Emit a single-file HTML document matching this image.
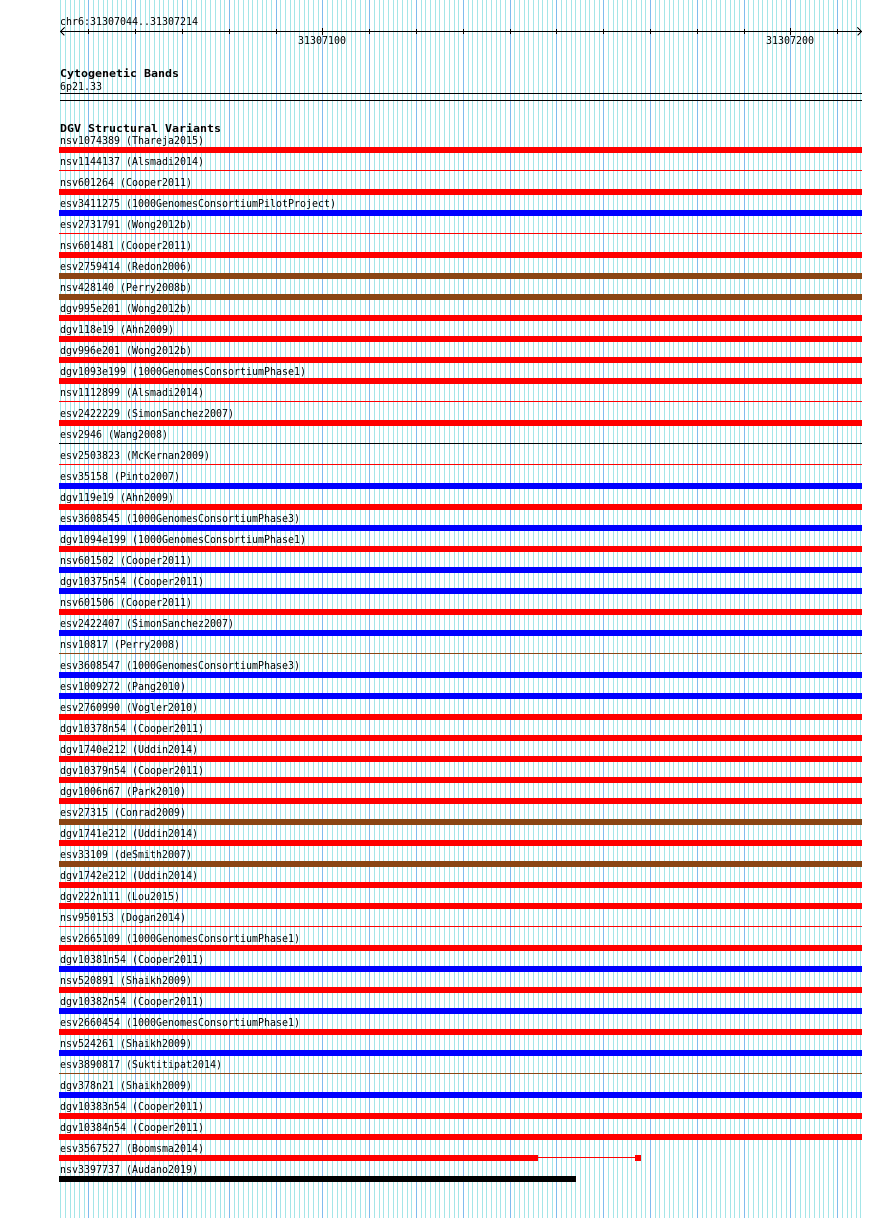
<!DOCTYPE html>
<html>
<head>
<meta charset="utf-8">
<style>
html,body{margin:0;padding:0;background:#fff;}
svg{display:block;}
text{font-family:"DejaVu Sans Mono","Liberation Mono",monospace;font-size:11px;fill:#000;}
text.b{font-weight:bold;}
</style>
</head>
<body>
<svg width="890" height="1218" viewBox="0 0 890 1218" xmlns="http://www.w3.org/2000/svg" shape-rendering="crispEdges">
<rect x="0" y="0" width="890" height="1218" fill="#fff"/>
<!-- minor grid -->
<path stroke="#a4e6e8" stroke-width="1" fill="none" d="M60.5 0V1218M65.5 0V1218M70.5 0V1218M74.5 0V1218M79.5 0V1218M84.5 0V1218M93.5 0V1218M98.5 0V1218M103.5 0V1218M107.5 0V1218M112.5 0V1218M117.5 0V1218M121.5 0V1218M126.5 0V1218M131.5 0V1218M140.5 0V1218M145.5 0V1218M149.5 0V1218M154.5 0V1218M159.5 0V1218M163.5 0V1218M168.5 0V1218M173.5 0V1218M177.5 0V1218M187.5 0V1218M191.5 0V1218M196.5 0V1218M201.5 0V1218M205.5 0V1218M210.5 0V1218M215.5 0V1218M220.5 0V1218M224.5 0V1218M234.5 0V1218M238.5 0V1218M243.5 0V1218M248.5 0V1218M252.5 0V1218M257.5 0V1218M262.5 0V1218M266.5 0V1218M271.5 0V1218M280.5 0V1218M285.5 0V1218M290.5 0V1218M294.5 0V1218M299.5 0V1218M304.5 0V1218M308.5 0V1218M313.5 0V1218M318.5 0V1218M327.5 0V1218M332.5 0V1218M337.5 0V1218M341.5 0V1218M346.5 0V1218M351.5 0V1218M355.5 0V1218M360.5 0V1218M365.5 0V1218M374.5 0V1218M379.5 0V1218M383.5 0V1218M388.5 0V1218M393.5 0V1218M397.5 0V1218M402.5 0V1218M407.5 0V1218M411.5 0V1218M421.5 0V1218M425.5 0V1218M430.5 0V1218M435.5 0V1218M439.5 0V1218M444.5 0V1218M449.5 0V1218M454.5 0V1218M458.5 0V1218M468.5 0V1218M472.5 0V1218M477.5 0V1218M482.5 0V1218M486.5 0V1218M491.5 0V1218M496.5 0V1218M500.5 0V1218M505.5 0V1218M514.5 0V1218M519.5 0V1218M524.5 0V1218M528.5 0V1218M533.5 0V1218M538.5 0V1218M542.5 0V1218M547.5 0V1218M552.5 0V1218M561.5 0V1218M566.5 0V1218M571.5 0V1218M575.5 0V1218M580.5 0V1218M585.5 0V1218M589.5 0V1218M594.5 0V1218M599.5 0V1218M608.5 0V1218M613.5 0V1218M617.5 0V1218M622.5 0V1218M627.5 0V1218M631.5 0V1218M636.5 0V1218M641.5 0V1218M645.5 0V1218M655.5 0V1218M659.5 0V1218M664.5 0V1218M669.5 0V1218M673.5 0V1218M678.5 0V1218M683.5 0V1218M688.5 0V1218M692.5 0V1218M702.5 0V1218M706.5 0V1218M711.5 0V1218M716.5 0V1218M720.5 0V1218M725.5 0V1218M730.5 0V1218M734.5 0V1218M739.5 0V1218M748.5 0V1218M753.5 0V1218M758.5 0V1218M762.5 0V1218M767.5 0V1218M772.5 0V1218M776.5 0V1218M781.5 0V1218M786.5 0V1218M795.5 0V1218M800.5 0V1218M805.5 0V1218M809.5 0V1218M814.5 0V1218M819.5 0V1218M823.5 0V1218M828.5 0V1218M833.5 0V1218M842.5 0V1218M847.5 0V1218M851.5 0V1218M856.5 0V1218M860.5 0V1218"/>
<!-- major grid -->
<path stroke="#80bcee" stroke-width="1" fill="none" d="M88.5 0V1218M135.5 0V1218M182.5 0V1218M229.5 0V1218M276.5 0V1218M322.5 0V1218M369.5 0V1218M416.5 0V1218M463.5 0V1218M510.5 0V1218M556.5 0V1218M603.5 0V1218M650.5 0V1218M697.5 0V1218M744.5 0V1218M790.5 0V1218M837.5 0V1218"/>

<!-- ruler -->
<text x="60" y="25" textLength="138" lengthAdjust="spacingAndGlyphs">chr6:31307044..31307214</text>
<path stroke="#000" stroke-width="1" fill="none" d="M60 31.5H862M60.5 31.5L64.5 27.5M60.5 31.5L64.5 35.5M861.5 31.5L857.5 27.5M861.5 31.5L857.5 35.5"/>
<path stroke="#000" stroke-width="1" fill="none" d="M88.5 29V34M135.5 29V34M182.5 29V34M229.5 29V34M276.5 29V34M322.5 28V35M369.5 29V34M416.5 29V34M463.5 29V34M510.5 29V34M556.5 29V34M603.5 29V34M650.5 29V34M697.5 29V34M744.5 29V34M790.5 28V35M837.5 29V34"/>
<text x="298" y="44" textLength="48" lengthAdjust="spacingAndGlyphs">31307100</text>
<text x="766" y="44" textLength="48" lengthAdjust="spacingAndGlyphs">31307200</text>

<!-- cytobands -->
<text class="b" x="60" y="77" textLength="119" lengthAdjust="spacingAndGlyphs">Cytogenetic Bands</text>
<text x="60" y="90" textLength="42" lengthAdjust="spacingAndGlyphs">6p21.33</text>
<rect x="60" y="93" width="802" height="1" fill="#000"/>
<rect x="60" y="100" width="802" height="1" fill="#000"/>

<text class="b" x="60" y="132" textLength="161" lengthAdjust="spacingAndGlyphs">DGV Structural Variants</text>

<!-- rows: label baseline 144+21i, bar top 147+21i -->
<text x="60" y="144" textLength="144" lengthAdjust="spacingAndGlyphs">nsv1074389 (Thareja2015)</text>
<rect x="59" y="147" width="803" height="6" fill="#ff0000"/>
<text x="60" y="165" textLength="144" lengthAdjust="spacingAndGlyphs">nsv1144137 (Alsmadi2014)</text>
<rect x="59" y="170" width="803" height="1" fill="#ff0000"/>
<text x="60" y="186" textLength="132" lengthAdjust="spacingAndGlyphs">nsv601264 (Cooper2011)</text>
<rect x="59" y="189" width="803" height="6" fill="#ff0000"/>
<text x="60" y="207" textLength="276" lengthAdjust="spacingAndGlyphs">esv3411275 (1000GenomesConsortiumPilotProject)</text>
<rect x="59" y="210" width="803" height="6" fill="#0000ff"/>
<text x="60" y="228" textLength="132" lengthAdjust="spacingAndGlyphs">esv2731791 (Wong2012b)</text>
<rect x="59" y="233" width="803" height="1" fill="#ff0000"/>
<text x="60" y="249" textLength="132" lengthAdjust="spacingAndGlyphs">nsv601481 (Cooper2011)</text>
<rect x="59" y="252" width="803" height="6" fill="#ff0000"/>
<text x="60" y="270" textLength="132" lengthAdjust="spacingAndGlyphs">esv2759414 (Redon2006)</text>
<rect x="59" y="273" width="803" height="6" fill="#8b4513"/>
<text x="60" y="291" textLength="132" lengthAdjust="spacingAndGlyphs">nsv428140 (Perry2008b)</text>
<rect x="59" y="294" width="803" height="6" fill="#8b4513"/>
<text x="60" y="312" textLength="132" lengthAdjust="spacingAndGlyphs">dgv995e201 (Wong2012b)</text>
<rect x="59" y="315" width="803" height="6" fill="#ff0000"/>
<text x="60" y="333" textLength="114" lengthAdjust="spacingAndGlyphs">dgv118e19 (Ahn2009)</text>
<rect x="59" y="336" width="803" height="6" fill="#ff0000"/>
<text x="60" y="354" textLength="132" lengthAdjust="spacingAndGlyphs">dgv996e201 (Wong2012b)</text>
<rect x="59" y="357" width="803" height="6" fill="#ff0000"/>
<text x="60" y="375" textLength="246" lengthAdjust="spacingAndGlyphs">dgv1093e199 (1000GenomesConsortiumPhase1)</text>
<rect x="59" y="378" width="803" height="6" fill="#ff0000"/>
<text x="60" y="396" textLength="144" lengthAdjust="spacingAndGlyphs">nsv1112899 (Alsmadi2014)</text>
<rect x="59" y="401" width="803" height="1" fill="#ff0000"/>
<text x="60" y="417" textLength="174" lengthAdjust="spacingAndGlyphs">esv2422229 (SimonSanchez2007)</text>
<rect x="59" y="420" width="803" height="6" fill="#ff0000"/>
<text x="60" y="438" textLength="108" lengthAdjust="spacingAndGlyphs">esv2946 (Wang2008)</text>
<rect x="59" y="443" width="803" height="1" fill="#000000"/>
<text x="60" y="459" textLength="150" lengthAdjust="spacingAndGlyphs">esv2503823 (McKernan2009)</text>
<rect x="59" y="464" width="803" height="1" fill="#ff0000"/>
<text x="60" y="480" textLength="120" lengthAdjust="spacingAndGlyphs">esv35158 (Pinto2007)</text>
<rect x="59" y="483" width="803" height="6" fill="#0000ff"/>
<text x="60" y="501" textLength="114" lengthAdjust="spacingAndGlyphs">dgv119e19 (Ahn2009)</text>
<rect x="59" y="504" width="803" height="6" fill="#ff0000"/>
<text x="60" y="522" textLength="240" lengthAdjust="spacingAndGlyphs">esv3608545 (1000GenomesConsortiumPhase3)</text>
<rect x="59" y="525" width="803" height="6" fill="#0000ff"/>
<text x="60" y="543" textLength="246" lengthAdjust="spacingAndGlyphs">dgv1094e199 (1000GenomesConsortiumPhase1)</text>
<rect x="59" y="546" width="803" height="6" fill="#ff0000"/>
<text x="60" y="564" textLength="132" lengthAdjust="spacingAndGlyphs">nsv601502 (Cooper2011)</text>
<rect x="59" y="567" width="803" height="6" fill="#0000ff"/>
<text x="60" y="585" textLength="144" lengthAdjust="spacingAndGlyphs">dgv10375n54 (Cooper2011)</text>
<rect x="59" y="588" width="803" height="6" fill="#0000ff"/>
<text x="60" y="606" textLength="132" lengthAdjust="spacingAndGlyphs">nsv601506 (Cooper2011)</text>
<rect x="59" y="609" width="803" height="6" fill="#ff0000"/>
<text x="60" y="627" textLength="174" lengthAdjust="spacingAndGlyphs">esv2422407 (SimonSanchez2007)</text>
<rect x="59" y="630" width="803" height="6" fill="#0000ff"/>
<text x="60" y="648" textLength="120" lengthAdjust="spacingAndGlyphs">nsv10817 (Perry2008)</text>
<rect x="59" y="653" width="803" height="1" fill="#8b4513"/>
<text x="60" y="669" textLength="240" lengthAdjust="spacingAndGlyphs">esv3608547 (1000GenomesConsortiumPhase3)</text>
<rect x="59" y="672" width="803" height="6" fill="#0000ff"/>
<text x="60" y="690" textLength="126" lengthAdjust="spacingAndGlyphs">esv1009272 (Pang2010)</text>
<rect x="59" y="693" width="803" height="6" fill="#0000ff"/>
<text x="60" y="711" textLength="138" lengthAdjust="spacingAndGlyphs">esv2760990 (Vogler2010)</text>
<rect x="59" y="714" width="803" height="6" fill="#ff0000"/>
<text x="60" y="732" textLength="144" lengthAdjust="spacingAndGlyphs">dgv10378n54 (Cooper2011)</text>
<rect x="59" y="735" width="803" height="6" fill="#ff0000"/>
<text x="60" y="753" textLength="138" lengthAdjust="spacingAndGlyphs">dgv1740e212 (Uddin2014)</text>
<rect x="59" y="756" width="803" height="6" fill="#ff0000"/>
<text x="60" y="774" textLength="144" lengthAdjust="spacingAndGlyphs">dgv10379n54 (Cooper2011)</text>
<rect x="59" y="777" width="803" height="6" fill="#ff0000"/>
<text x="60" y="795" textLength="126" lengthAdjust="spacingAndGlyphs">dgv1006n67 (Park2010)</text>
<rect x="59" y="798" width="803" height="6" fill="#ff0000"/>
<text x="60" y="816" textLength="126" lengthAdjust="spacingAndGlyphs">esv27315 (Conrad2009)</text>
<rect x="59" y="819" width="803" height="6" fill="#8b4513"/>
<text x="60" y="837" textLength="138" lengthAdjust="spacingAndGlyphs">dgv1741e212 (Uddin2014)</text>
<rect x="59" y="840" width="803" height="6" fill="#ff0000"/>
<text x="60" y="858" textLength="132" lengthAdjust="spacingAndGlyphs">esv33109 (deSmith2007)</text>
<rect x="59" y="861" width="803" height="6" fill="#8b4513"/>
<text x="60" y="879" textLength="138" lengthAdjust="spacingAndGlyphs">dgv1742e212 (Uddin2014)</text>
<rect x="59" y="882" width="803" height="6" fill="#ff0000"/>
<text x="60" y="900" textLength="120" lengthAdjust="spacingAndGlyphs">dgv222n111 (Lou2015)</text>
<rect x="59" y="903" width="803" height="6" fill="#ff0000"/>
<text x="60" y="921" textLength="126" lengthAdjust="spacingAndGlyphs">nsv950153 (Dogan2014)</text>
<rect x="59" y="926" width="803" height="1" fill="#ff0000"/>
<text x="60" y="942" textLength="240" lengthAdjust="spacingAndGlyphs">esv2665109 (1000GenomesConsortiumPhase1)</text>
<rect x="59" y="945" width="803" height="6" fill="#ff0000"/>
<text x="60" y="963" textLength="144" lengthAdjust="spacingAndGlyphs">dgv10381n54 (Cooper2011)</text>
<rect x="59" y="966" width="803" height="6" fill="#0000ff"/>
<text x="60" y="984" textLength="132" lengthAdjust="spacingAndGlyphs">nsv520891 (Shaikh2009)</text>
<rect x="59" y="987" width="803" height="6" fill="#ff0000"/>
<text x="60" y="1005" textLength="144" lengthAdjust="spacingAndGlyphs">dgv10382n54 (Cooper2011)</text>
<rect x="59" y="1008" width="803" height="6" fill="#0000ff"/>
<text x="60" y="1026" textLength="240" lengthAdjust="spacingAndGlyphs">esv2660454 (1000GenomesConsortiumPhase1)</text>
<rect x="59" y="1029" width="803" height="6" fill="#ff0000"/>
<text x="60" y="1047" textLength="132" lengthAdjust="spacingAndGlyphs">nsv524261 (Shaikh2009)</text>
<rect x="59" y="1050" width="803" height="6" fill="#0000ff"/>
<text x="60" y="1068" textLength="162" lengthAdjust="spacingAndGlyphs">esv3890817 (Suktitipat2014)</text>
<rect x="59" y="1073" width="803" height="1" fill="#8b4513"/>
<text x="60" y="1089" textLength="132" lengthAdjust="spacingAndGlyphs">dgv378n21 (Shaikh2009)</text>
<rect x="59" y="1092" width="803" height="6" fill="#0000ff"/>
<text x="60" y="1110" textLength="144" lengthAdjust="spacingAndGlyphs">dgv10383n54 (Cooper2011)</text>
<rect x="59" y="1113" width="803" height="6" fill="#ff0000"/>
<text x="60" y="1131" textLength="144" lengthAdjust="spacingAndGlyphs">dgv10384n54 (Cooper2011)</text>
<rect x="59" y="1134" width="803" height="6" fill="#ff0000"/>
<text x="60" y="1152" textLength="144" lengthAdjust="spacingAndGlyphs">esv3567527 (Boomsma2014)</text>
<rect x="59" y="1155" width="479" height="6" fill="#ff0000"/>
<rect x="538" y="1157" width="98" height="1" fill="#ff0000"/>
<rect x="635" y="1155" width="6" height="6" fill="#ff0000"/>
<text x="60" y="1173" textLength="138" lengthAdjust="spacingAndGlyphs">nsv3397737 (Audano2019)</text>
<rect x="59" y="1176" width="517" height="6" fill="#000000"/>
</svg>
</body>
</html>
